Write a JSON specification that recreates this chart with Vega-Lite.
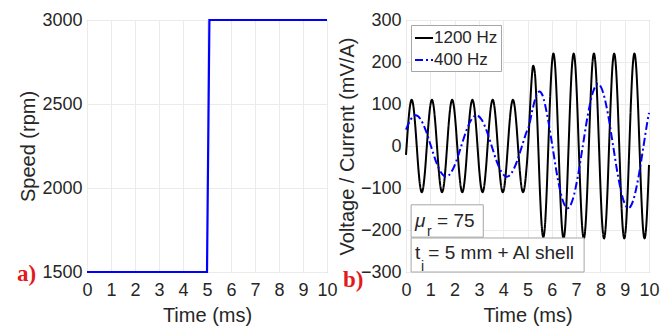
{
  "$schema": "https://vega.github.io/schema/vega-lite/v6.json",
  "padding": {"left": 16, "top": 10, "right": 5, "bottom": 0},
  "spacing": 79,
  "bounds": "flush",
  "resolve": {"legend": {"color": "independent", "strokeDash": "independent"}},
  "config": {
    "font": "Liberation Sans",
    "view": {"stroke": "#a6a6a6", "strokeWidth": 1},
    "axis": {"labelFont": "Liberation Sans", "labelFontSize": 18, "labelColor": "#262626", "titleFont": "Liberation Sans", "titleFontSize": 20, "titleFontWeight": "normal", "titleColor": "#262626", "gridColor": "#ebebeb", "domain": false, "ticks": false, "labelPadding": 5, "labelOverlap": false, "format": "d"},
    "axisX": {"labelPadding": 9, "titlePadding": 6, "labelFlush": false},
    "axisY": {"titlePadding": 3},
    "legend": {"orient": "top-left", "offset": 5, "strokeColor": "#a6a6a6", "fillColor": "white", "padding": 3, "labelFont": "Liberation Sans", "labelFontSize": 17, "labelColor": "#262626", "symbolType": "stroke", "symbolSize": 324, "symbolStrokeWidth": 2, "labelOffset": 0, "rowPadding": 4, "title": null}
  },
  "datasets": {
    "speed": [{"t": 0, "v": 1500}, {"t": 5, "v": 1500}, {"t": 5.1, "v": 3000}, {"t": 10, "v": 3000}],
    "wave": [
      {"f": "1200 Hz", "t": 0, "v": -21}, {"f": "1200 Hz", "t": 0.025, "v": 0}, {"f": "1200 Hz", "t": 0.094, "v": 55}, {"f": "1200 Hz", "t": 0.164, "v": 95},
      {"f": "1200 Hz", "t": 0.233, "v": 110}, {"f": "1200 Hz", "t": 0.303, "v": 95}, {"f": "1200 Hz", "t": 0.372, "v": 55}, {"f": "1200 Hz", "t": 0.442, "v": 0}, {"f": "1200 Hz", "t": 0.511, "v": -55}, {"f": "1200 Hz", "t": 0.581, "v": -95}, {"f": "1200 Hz", "t": 0.650, "v": -110}, {"f": "1200 Hz", "t": 0.719, "v": -95}, {"f": "1200 Hz", "t": 0.789, "v": -55}, {"f": "1200 Hz", "t": 0.858, "v": 0}, {"f": "1200 Hz", "t": 0.928, "v": 55}, {"f": "1200 Hz", "t": 0.997, "v": 95},
      {"f": "1200 Hz", "t": 1.067, "v": 110}, {"f": "1200 Hz", "t": 1.136, "v": 95}, {"f": "1200 Hz", "t": 1.206, "v": 55}, {"f": "1200 Hz", "t": 1.275, "v": 0}, {"f": "1200 Hz", "t": 1.344, "v": -55}, {"f": "1200 Hz", "t": 1.414, "v": -95}, {"f": "1200 Hz", "t": 1.483, "v": -110}, {"f": "1200 Hz", "t": 1.553, "v": -95}, {"f": "1200 Hz", "t": 1.622, "v": -55}, {"f": "1200 Hz", "t": 1.692, "v": 0}, {"f": "1200 Hz", "t": 1.761, "v": 55}, {"f": "1200 Hz", "t": 1.831, "v": 95},
      {"f": "1200 Hz", "t": 1.900, "v": 110}, {"f": "1200 Hz", "t": 1.969, "v": 95}, {"f": "1200 Hz", "t": 2.039, "v": 55}, {"f": "1200 Hz", "t": 2.108, "v": 0}, {"f": "1200 Hz", "t": 2.178, "v": -55}, {"f": "1200 Hz", "t": 2.247, "v": -95}, {"f": "1200 Hz", "t": 2.317, "v": -110}, {"f": "1200 Hz", "t": 2.386, "v": -95}, {"f": "1200 Hz", "t": 2.456, "v": -55}, {"f": "1200 Hz", "t": 2.525, "v": 0}, {"f": "1200 Hz", "t": 2.594, "v": 55}, {"f": "1200 Hz", "t": 2.664, "v": 95},
      {"f": "1200 Hz", "t": 2.733, "v": 110}, {"f": "1200 Hz", "t": 2.803, "v": 95}, {"f": "1200 Hz", "t": 2.872, "v": 55}, {"f": "1200 Hz", "t": 2.942, "v": 0}, {"f": "1200 Hz", "t": 3.011, "v": -55}, {"f": "1200 Hz", "t": 3.081, "v": -95}, {"f": "1200 Hz", "t": 3.150, "v": -110}, {"f": "1200 Hz", "t": 3.219, "v": -95}, {"f": "1200 Hz", "t": 3.289, "v": -55}, {"f": "1200 Hz", "t": 3.358, "v": 0}, {"f": "1200 Hz", "t": 3.428, "v": 55}, {"f": "1200 Hz", "t": 3.497, "v": 95},
      {"f": "1200 Hz", "t": 3.567, "v": 110}, {"f": "1200 Hz", "t": 3.636, "v": 95}, {"f": "1200 Hz", "t": 3.706, "v": 55}, {"f": "1200 Hz", "t": 3.775, "v": 0}, {"f": "1200 Hz", "t": 3.844, "v": -55}, {"f": "1200 Hz", "t": 3.914, "v": -95}, {"f": "1200 Hz", "t": 3.983, "v": -110}, {"f": "1200 Hz", "t": 4.053, "v": -95}, {"f": "1200 Hz", "t": 4.122, "v": -55}, {"f": "1200 Hz", "t": 4.192, "v": 0}, {"f": "1200 Hz", "t": 4.261, "v": 55}, {"f": "1200 Hz", "t": 4.331, "v": 95},
      {"f": "1200 Hz", "t": 4.400, "v": 110}, {"f": "1200 Hz", "t": 4.469, "v": 95}, {"f": "1200 Hz", "t": 4.539, "v": 55}, {"f": "1200 Hz", "t": 4.608, "v": 0}, {"f": "1200 Hz", "t": 4.678, "v": -55}, {"f": "1200 Hz", "t": 4.747, "v": -95}, {"f": "1200 Hz", "t": 4.817, "v": -110}, {"f": "1200 Hz", "t": 4.886, "v": -95}, {"f": "1200 Hz", "t": 4.956, "v": -55},
      {"f": "1200 Hz", "t": 5.025, "v": 0}, {"f": "1200 Hz", "t": 5.094, "v": 78}, {"f": "1200 Hz", "t": 5.164, "v": 153},
      {"f": "1200 Hz", "t": 5.233, "v": 191}, {"f": "1200 Hz", "t": 5.303, "v": 174}, {"f": "1200 Hz", "t": 5.372, "v": 103}, {"f": "1200 Hz", "t": 5.442, "v": 0}, {"f": "1200 Hz", "t": 5.511, "v": -107}, {"f": "1200 Hz", "t": 5.581, "v": -187}, {"f": "1200 Hz", "t": 5.650, "v": -217}, {"f": "1200 Hz", "t": 5.719, "v": -189}, {"f": "1200 Hz", "t": 5.789, "v": -109}, {"f": "1200 Hz", "t": 5.858, "v": 0}, {"f": "1200 Hz", "t": 5.928, "v": 110}, {"f": "1200 Hz", "t": 5.997, "v": 190},
      {"f": "1200 Hz", "t": 6.067, "v": 220}, {"f": "1200 Hz", "t": 6.136, "v": 191}, {"f": "1200 Hz", "t": 6.206, "v": 110}, {"f": "1200 Hz", "t": 6.275, "v": 0}, {"f": "1200 Hz", "t": 6.344, "v": -110}, {"f": "1200 Hz", "t": 6.414, "v": -191}, {"f": "1200 Hz", "t": 6.483, "v": -220}, {"f": "1200 Hz", "t": 6.553, "v": -191}, {"f": "1200 Hz", "t": 6.622, "v": -110}, {"f": "1200 Hz", "t": 6.692, "v": 0}, {"f": "1200 Hz", "t": 6.761, "v": 110}, {"f": "1200 Hz", "t": 6.831, "v": 191},
      {"f": "1200 Hz", "t": 6.900, "v": 220}, {"f": "1200 Hz", "t": 6.969, "v": 191}, {"f": "1200 Hz", "t": 7.039, "v": 110}, {"f": "1200 Hz", "t": 7.108, "v": 0}, {"f": "1200 Hz", "t": 7.178, "v": -110}, {"f": "1200 Hz", "t": 7.247, "v": -191}, {"f": "1200 Hz", "t": 7.317, "v": -220}, {"f": "1200 Hz", "t": 7.386, "v": -191}, {"f": "1200 Hz", "t": 7.456, "v": -110}, {"f": "1200 Hz", "t": 7.525, "v": 0}, {"f": "1200 Hz", "t": 7.594, "v": 110}, {"f": "1200 Hz", "t": 7.664, "v": 191},
      {"f": "1200 Hz", "t": 7.733, "v": 220}, {"f": "1200 Hz", "t": 7.803, "v": 191}, {"f": "1200 Hz", "t": 7.872, "v": 110}, {"f": "1200 Hz", "t": 7.942, "v": 0}, {"f": "1200 Hz", "t": 8.011, "v": -110}, {"f": "1200 Hz", "t": 8.081, "v": -191}, {"f": "1200 Hz", "t": 8.150, "v": -220}, {"f": "1200 Hz", "t": 8.219, "v": -191}, {"f": "1200 Hz", "t": 8.289, "v": -110}, {"f": "1200 Hz", "t": 8.358, "v": 0}, {"f": "1200 Hz", "t": 8.428, "v": 110}, {"f": "1200 Hz", "t": 8.497, "v": 191},
      {"f": "1200 Hz", "t": 8.567, "v": 220}, {"f": "1200 Hz", "t": 8.636, "v": 191}, {"f": "1200 Hz", "t": 8.706, "v": 110}, {"f": "1200 Hz", "t": 8.775, "v": 0}, {"f": "1200 Hz", "t": 8.844, "v": -110}, {"f": "1200 Hz", "t": 8.914, "v": -191}, {"f": "1200 Hz", "t": 8.983, "v": -220}, {"f": "1200 Hz", "t": 9.053, "v": -191}, {"f": "1200 Hz", "t": 9.122, "v": -110}, {"f": "1200 Hz", "t": 9.192, "v": 0}, {"f": "1200 Hz", "t": 9.261, "v": 110}, {"f": "1200 Hz", "t": 9.331, "v": 191},
      {"f": "1200 Hz", "t": 9.400, "v": 220}, {"f": "1200 Hz", "t": 9.469, "v": 191}, {"f": "1200 Hz", "t": 9.539, "v": 110}, {"f": "1200 Hz", "t": 9.608, "v": 0}, {"f": "1200 Hz", "t": 9.678, "v": -110}, {"f": "1200 Hz", "t": 9.747, "v": -191}, {"f": "1200 Hz", "t": 9.817, "v": -220}, {"f": "1200 Hz", "t": 9.886, "v": -191}, {"f": "1200 Hz", "t": 9.956, "v": -110}, {"f": "1200 Hz", "t": 10, "v": -45},
      {"f": "400 Hz", "t": 0, "v": 39}, {"f": "400 Hz", "t": 0.192, "v": 63}, {"f": "400 Hz", "t": 0.4, "v": 73}, {"f": "400 Hz", "t": 0.608, "v": 63}, {"f": "400 Hz", "t": 0.817, "v": 36.5}, {"f": "400 Hz", "t": 1.025, "v": 0}, {"f": "400 Hz", "t": 1.233, "v": -36.5}, {"f": "400 Hz", "t": 1.442, "v": -63}, {"f": "400 Hz", "t": 1.65, "v": -73}, {"f": "400 Hz", "t": 1.858, "v": -63}, {"f": "400 Hz", "t": 2.067, "v": -36.5}, {"f": "400 Hz", "t": 2.275, "v": 0}, {"f": "400 Hz", "t": 2.483, "v": 36.5}, {"f": "400 Hz", "t": 2.692, "v": 63}, {"f": "400 Hz", "t": 2.9, "v": 73}, {"f": "400 Hz", "t": 3.108, "v": 63}, {"f": "400 Hz", "t": 3.317, "v": 36.5}, {"f": "400 Hz", "t": 3.525, "v": 0}, {"f": "400 Hz", "t": 3.733, "v": -36.5}, {"f": "400 Hz", "t": 3.942, "v": -63}, {"f": "400 Hz", "t": 4.15, "v": -73}, {"f": "400 Hz", "t": 4.358, "v": -63}, {"f": "400 Hz", "t": 4.567, "v": -36.5}, {"f": "400 Hz", "t": 4.775, "v": 0}, {"f": "400 Hz", "t": 4.983, "v": 36.5}, {"f": "400 Hz", "t": 5.03, "v": 42},
      {"f": "400 Hz", "t": 5.2, "v": 85}, {"f": "400 Hz", "t": 5.33, "v": 115}, {"f": "400 Hz", "t": 5.42, "v": 127}, {"f": "400 Hz", "t": 5.5, "v": 130}, {"f": "400 Hz", "t": 5.608, "v": 122}, {"f": "400 Hz", "t": 5.817, "v": 72}, {"f": "400 Hz", "t": 6.025, "v": 0}, {"f": "400 Hz", "t": 6.233, "v": -74}, {"f": "400 Hz", "t": 6.442, "v": -128}, {"f": "400 Hz", "t": 6.65, "v": -148}, {"f": "400 Hz", "t": 6.858, "v": -128}, {"f": "400 Hz", "t": 7.067, "v": -74}, {"f": "400 Hz", "t": 7.275, "v": 0}, {"f": "400 Hz", "t": 7.483, "v": 74}, {"f": "400 Hz", "t": 7.692, "v": 128}, {"f": "400 Hz", "t": 7.9, "v": 148}, {"f": "400 Hz", "t": 8.108, "v": 128}, {"f": "400 Hz", "t": 8.317, "v": 74}, {"f": "400 Hz", "t": 8.525, "v": 0}, {"f": "400 Hz", "t": 8.733, "v": -74}, {"f": "400 Hz", "t": 8.942, "v": -128}, {"f": "400 Hz", "t": 9.15, "v": -148}, {"f": "400 Hz", "t": 9.358, "v": -128}, {"f": "400 Hz", "t": 9.567, "v": -74}, {"f": "400 Hz", "t": 9.775, "v": 0}, {"f": "400 Hz", "t": 9.983, "v": 74}, {"f": "400 Hz", "t": 10, "v": 79}
    ]
  },
  "hconcat": [
    {
      "width": 240,
      "height": 252,
      "layer": [
        {
          "data": {"name": "speed"},
          "mark": {"type": "line", "color": "#0000ff", "strokeWidth": 2.2},
          "encoding": {
            "x": {"field": "t", "type": "quantitative", "scale": {"domain": [0, 10], "nice": false}, "axis": {"title": "Time (ms)", "values": [0, 1, 2, 3, 4, 5, 6, 7, 8, 9, 10]}},
            "y": {"field": "v", "type": "quantitative", "scale": {"domain": [1500, 3000], "nice": false, "zero": false}, "axis": {"title": "Speed (rpm)", "values": [1500, 2000, 2500, 3000]}}
          }
        },
        {
          "data": {"values": [{}]},
          "mark": {"type": "text", "text": "a)", "font": "Liberation Serif", "fontWeight": "bold", "fontSize": 23, "color": "#e31a1c", "align": "left", "baseline": "middle"},
          "encoding": {
            "x": {"datum": -2.92, "axis": {"title": "Time (ms)", "values": [0, 1, 2, 3, 4, 5, 6, 7, 8, 9, 10]}},
            "y": {"datum": 1488, "axis": {"title": "Speed (rpm)", "values": [1500, 2000, 2500, 3000]}}
          }
        }
      ]
    },
    {
      "width": 243,
      "height": 252,
      "encoding": {
        "x": {"type": "quantitative", "scale": {"domain": [0, 10], "nice": false}, "axis": {"title": "Time (ms)", "values": [0, 1, 2, 3, 4, 5, 6, 7, 8, 9, 10]}},
        "y": {"type": "quantitative", "scale": {"domain": [-300, 300], "nice": false}, "axis": {"title": "Voltage / Current (mV/A)", "values": [-300, -200, -100, 0, 100, 200, 300]}}
      },
      "layer": [
        {
          "data": {"name": "wave"},
          "mark": {"type": "line", "interpolate": "monotone", "strokeWidth": 2},
          "encoding": {
            "x": {"field": "t", "type": "quantitative", "scale": {"domain": [0, 10], "nice": false}, "axis": {"title": "Time (ms)", "values": [0, 1, 2, 3, 4, 5, 6, 7, 8, 9, 10]}},
            "y": {"field": "v", "type": "quantitative", "scale": {"domain": [-300, 300], "nice": false}, "axis": {"title": "Voltage / Current (mV/A)", "values": [-300, -200, -100, 0, 100, 200, 300]}},
            "color": {"field": "f", "type": "nominal", "scale": {"domain": ["1200 Hz", "400 Hz"], "range": ["#000000", "#0000ff"]}, "legend": {"title": null}},
            "strokeDash": {"field": "f", "type": "nominal", "scale": {"domain": ["1200 Hz", "400 Hz"], "range": [[1, 0], [8, 3, 2, 3]]}, "legend": {"title": null}}
          }
        },
        {
          "data": {"values": [{}]},
          "mark": {"type": "rect", "fill": "white", "stroke": "#a6a6a6", "strokeWidth": 1},
          "encoding": {
            "x": {"datum": 0.21, "axis": {"title": "Time (ms)", "values": [0, 1, 2, 3, 4, 5, 6, 7, 8, 9, 10]}}, "x2": {"datum": 3.18},
            "y": {"datum": -140, "axis": {"title": "Voltage / Current (mV/A)", "values": [-300, -200, -100, 0, 100, 200, 300]}}, "y2": {"datum": -217}
          }
        },
        {
          "data": {"values": [{}]},
          "mark": {"type": "rect", "fill": "white", "stroke": "#a6a6a6", "strokeWidth": 1},
          "encoding": {
            "x": {"datum": 0.21, "axis": {"title": "Time (ms)", "values": [0, 1, 2, 3, 4, 5, 6, 7, 8, 9, 10]}}, "x2": {"datum": 7.33},
            "y": {"datum": -219, "axis": {"title": "Voltage / Current (mV/A)", "values": [-300, -200, -100, 0, 100, 200, 300]}}, "y2": {"datum": -300}
          }
        },
        {
          "data": {"values": [{}]},
          "mark": {"type": "text", "text": "μ", "fontStyle": "italic", "fontSize": 19, "align": "left", "baseline": "middle", "color": "#262626"},
          "encoding": {
            "x": {"datum": 0.37, "axis": {"title": "Time (ms)", "values": [0, 1, 2, 3, 4, 5, 6, 7, 8, 9, 10]}},
            "y": {"datum": -178, "axis": {"title": "Voltage / Current (mV/A)", "values": [-300, -200, -100, 0, 100, 200, 300]}}
          }
        },
        {
          "data": {"values": [{}]},
          "mark": {"type": "text", "text": "r", "fontSize": 14, "align": "left", "baseline": "middle", "color": "#262626"},
          "encoding": {
            "x": {"datum": 0.86, "axis": {"title": "Time (ms)", "values": [0, 1, 2, 3, 4, 5, 6, 7, 8, 9, 10]}},
            "y": {"datum": -205, "axis": {"title": "Voltage / Current (mV/A)", "values": [-300, -200, -100, 0, 100, 200, 300]}}
          }
        },
        {
          "data": {"values": [{}]},
          "mark": {"type": "text", "text": "= 75", "fontSize": 19, "align": "left", "baseline": "middle", "color": "#262626"},
          "encoding": {
            "x": {"datum": 1.28, "axis": {"title": "Time (ms)", "values": [0, 1, 2, 3, 4, 5, 6, 7, 8, 9, 10]}},
            "y": {"datum": -178, "axis": {"title": "Voltage / Current (mV/A)", "values": [-300, -200, -100, 0, 100, 200, 300]}}
          }
        },
        {
          "data": {"values": [{}]},
          "mark": {"type": "text", "text": "t", "fontSize": 19, "align": "left", "baseline": "middle", "color": "#262626"},
          "encoding": {
            "x": {"datum": 0.37, "axis": {"title": "Time (ms)", "values": [0, 1, 2, 3, 4, 5, 6, 7, 8, 9, 10]}},
            "y": {"datum": -254, "axis": {"title": "Voltage / Current (mV/A)", "values": [-300, -200, -100, 0, 100, 200, 300]}}
          }
        },
        {
          "data": {"values": [{}]},
          "mark": {"type": "text", "text": "i", "fontSize": 14, "align": "left", "baseline": "middle", "color": "#262626"},
          "encoding": {
            "x": {"datum": 0.62, "axis": {"title": "Time (ms)", "values": [0, 1, 2, 3, 4, 5, 6, 7, 8, 9, 10]}},
            "y": {"datum": -289, "axis": {"title": "Voltage / Current (mV/A)", "values": [-300, -200, -100, 0, 100, 200, 300]}}
          }
        },
        {
          "data": {"values": [{}]},
          "mark": {"type": "text", "text": "= 5 mm + Al shell", "fontSize": 19, "align": "left", "baseline": "middle", "color": "#262626"},
          "encoding": {
            "x": {"datum": 0.92, "axis": {"title": "Time (ms)", "values": [0, 1, 2, 3, 4, 5, 6, 7, 8, 9, 10]}},
            "y": {"datum": -255, "axis": {"title": "Voltage / Current (mV/A)", "values": [-300, -200, -100, 0, 100, 200, 300]}}
          }
        },
        {
          "data": {"values": [{}]},
          "mark": {"type": "text", "text": "b)", "font": "Liberation Serif", "fontWeight": "bold", "fontSize": 23, "color": "#e31a1c", "align": "left", "baseline": "middle"},
          "encoding": {
            "x": {"datum": -2.59, "axis": {"title": "Time (ms)", "values": [0, 1, 2, 3, 4, 5, 6, 7, 8, 9, 10]}},
            "y": {"datum": -319, "axis": {"title": "Voltage / Current (mV/A)", "values": [-300, -200, -100, 0, 100, 200, 300]}}
          }
        }
      ]
    }
  ]
}
